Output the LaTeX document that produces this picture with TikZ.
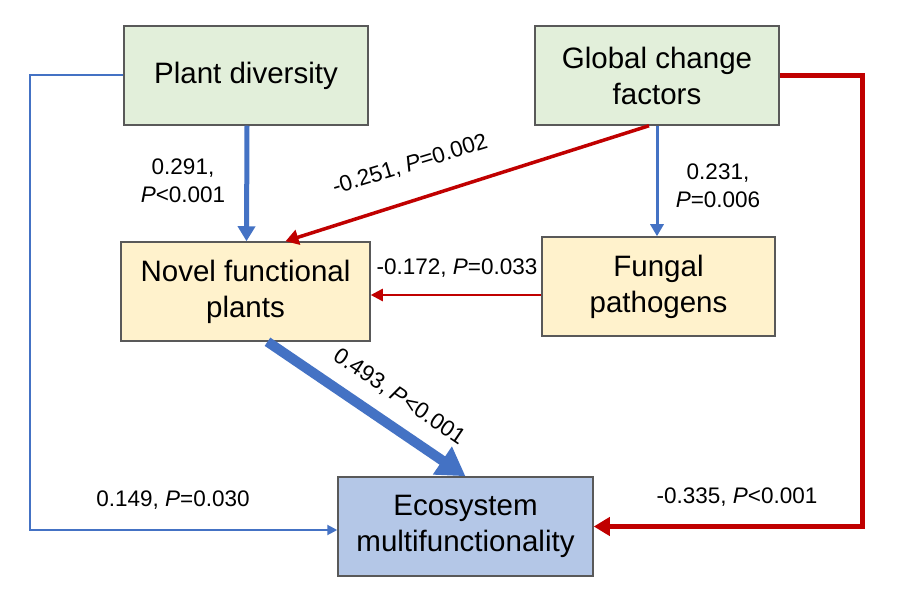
\documentclass[tikz,border=0pt]{standalone}
\usepackage{fontspec}
\setmainfont{Liberation Sans}
\usetikzlibrary{arrows.meta,calc}
\definecolor{boxgreen}{HTML}{E2EFDA}
\definecolor{boxyellow}{HTML}{FFF2CC}
\definecolor{boxblue}{HTML}{B4C7E7}
\definecolor{edgeblue}{HTML}{4472C4}
\definecolor{edgered}{HTML}{C00000}
\definecolor{bordergray}{HTML}{595959}
\begin{document}
\begin{tikzpicture}[x=1pt,y=-1pt,
  boxstyle/.style={draw=bordergray,line width=1.5pt,rectangle,align=center,
    font=\fontsize{29.5}{36}\selectfont,inner sep=0pt},
  lbl/.style={font=\fontsize{22.5}{28}\selectfont,align=center,inner sep=0pt},
  blueline/.style={draw=edgeblue},
  redline/.style={draw=edgered},
]
\useasboundingbox[fill=white] (0,0) rectangle (900,601);

\node[boxstyle,fill=boxgreen,minimum width=244pt,minimum height=99pt] (pd) at (246,75.5) {Plant diversity};
\node[boxstyle,fill=boxgreen,minimum width=244pt,minimum height=99pt] (gc) at (657,75.5) {Global change\\factors};
\node[boxstyle,fill=boxyellow,minimum width=249pt,minimum height=99pt] (nf) at (245.5,291.5) {Novel functional\\plants};
\node[boxstyle,fill=boxyellow,minimum width=233pt,minimum height=99pt] (fp) at (658.5,286.5) {Fungal\\pathogens};
\node[boxstyle,fill=boxblue,minimum width=255pt,minimum height=99pt] (em) at (465.5,526.5) {Ecosystem\\multifunctionality};

\coordinate (fy) at (0,295);
\coordinate (lx) at (30,0);
\coordinate (rx) at (862,0);

% Plant diversity -> Novel functional plants
\draw[blueline,line width=5pt,-{Triangle[length=15pt,width=17pt]}] ([xshift=1pt]pd.south) -- ([xshift=1pt]nf.north);
% Global change -> Novel functional plants
\draw[redline,line width=3.5pt,-{Triangle[length=13pt,width=15pt]}] ([xshift=-8pt]gc.south) -- ([xshift=40pt]nf.north);
% Global change -> Fungal pathogens
\draw[blueline,line width=3pt,-{Triangle[length=12pt,width=13pt]}] (gc.south) -- (gc.south |- fp.north);
% Fungal pathogens -> Novel functional plants
\draw[redline,line width=2.5pt,-{Triangle[length=12pt,width=12pt]}] (fp.west |- fy) -- (nf.east |- fy);
% Novel functional plants -> Ecosystem multifunctionality
\draw[blueline,line width=10pt,-{Triangle[length=28pt,width=32pt]}] ([xshift=22pt]nf.south) -- (em.north);
% Plant diversity -> Ecosystem (loop left)
\draw[blueline,line width=2pt,-{Triangle[length=10pt,width=10pt]}] (pd.west) -- (lx |- pd.west) |- ([yshift=-3.5pt]em.west);
% Global change -> Ecosystem (loop right)
\draw[redline,line width=5pt,-{Triangle[length=16pt,width=18pt]}] (gc.east) -- (rx |- gc.east) |- (em.east);

% Labels
\node[lbl] (l1) at (183,181) {0.291,\\\textit{P}<0.001};
\node[lbl,rotate=17] (l2) at (410,165) {-0.251, \textit{P}=0.002};
\node[lbl] (l3) at (718,186) {0.231,\\\textit{P}=0.006};
\node[lbl] (l4) at (457,268) {-0.172, \textit{P}=0.033};
\node[lbl,rotate=-34] (l5) at (399,397) {0.493, \textit{P}<0.001};
\node[lbl] (l6) at (173,500) {0.149, \textit{P}=0.030};
\node[lbl] (l7) at (737,497) {-0.335, \textit{P}<0.001};
\end{tikzpicture}
\end{document}
